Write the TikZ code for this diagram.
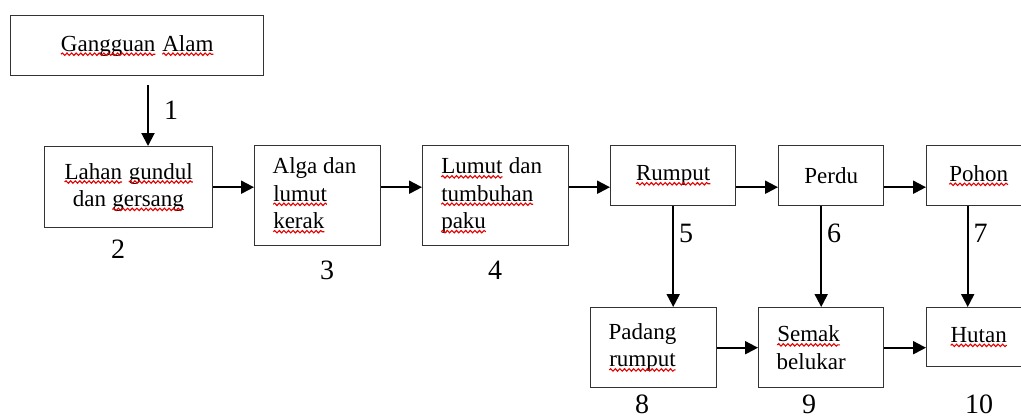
\documentclass[tikz,border=0pt]{standalone}
\usepackage{fontspec}
\setmainfont{Liberation Serif}
\usetikzlibrary{arrows.meta}
\usetikzlibrary{decorations.pathmorphing}

\tikzset{
    stage/.style={rectangle, draw=black!80, line width=0.7pt, anchor=north west, inner xsep=9pt, font=\fontsize{11.5}{13.7}\selectfont},
    number/.style={font=\fontsize{14}{16}\selectfont, inner sep=0pt},
    flow/.style={-{Triangle[length=6.5pt, width=6.5pt]}, line width=1pt},
    squiggle/.style={draw=red!90!black, line width=0.55pt, decorate, decoration={snake, amplitude=0.6pt, segment length=2.3pt}}
}

% red wavy underline of the spell checker
\newcommand{\sqw}[1]{\tikz[baseline=(sqw.base)]{\node[inner sep=0pt, outer sep=0pt, draw=none, text width={}, minimum width=0pt, minimum height=0pt, anchor=base] (sqw) {#1}; \draw[squiggle] ([yshift=-1.5pt]sqw.base west) -- ([yshift=-1.5pt]sqw.base east);}}

\begin{document}
\begin{tikzpicture}[x=0.5pt, y=-0.5pt]
    \useasboundingbox (0, 0) rectangle (1021, 419);

    \node [stage, minimum width=126.5pt, minimum height=30pt] (gangguan) at (10, 15) {\sqw{Gangguan} \sqw{Alam}};
    \node [stage, minimum width=84pt, minimum height=40.5pt, align=center] (lahan) at (44, 146) {\sqw{Lahan} \sqw{gundul}\\ dan \sqw{gersang}};
    \node [stage, text width=45pt, minimum height=50pt, align=flush left] (alga) at (254, 145) {Alga dan\\ \sqw{lumut}\\ \sqw{kerak}};
    \node [stage, text width=55pt, minimum height=50pt, align=flush left] (lumut) at (422, 145) {\sqw{Lumut} dan\\ \sqw{tumbuhan}\\ \sqw{paku}};
    \node [stage, minimum width=62.5pt, minimum height=30pt] (rumput) at (610, 145) {\sqw{Rumput}};
    \node [stage, minimum width=52.5pt, minimum height=30pt] (perdu) at (778, 145) {Perdu};
    \node [stage, minimum width=52pt, minimum height=30pt] (pohon) at (926, 145) {\sqw{Pohon}};
    \node [stage, text width=45pt, minimum height=40pt, align=flush left] (padang) at (590, 307) {Padang\\ \sqw{rumput}};
    \node [stage, text width=44.5pt, minimum height=40pt, align=flush left] (semak) at (758, 307) {\sqw{Semak}\\ belukar};
    \node [stage, minimum width=52pt, minimum height=29.5pt] (hutan) at (926, 307) {\sqw{Hutan}};

    \node [number] (n2) at (118, 249) {2};
    \node [number] (n3) at (327, 270) {3};
    \node [number] (n4) at (495, 270) {4};
    \node [number] (n8) at (642, 404) {8};
    \node [number] (n9) at (809, 404) {9};
    \node [number] (n10) at (979, 404) {10};

    \coordinate (drop) at (148, 85);
    \coordinate (fall) at ([xshift=-5.5pt]pohon.south);

    \draw [flow] (drop) -- node [number, pos=0.42, right=7.5pt] (n1) {1} (drop |- lahan.north);
    \draw [flow] (lahan.east) -- (lahan.east -| alga.west);
    \draw [flow] (alga.east |- lahan.east) -- (lumut.west |- lahan.east);
    \draw [flow] (lumut.east |- lahan.east) -- (rumput.west |- lahan.east);
    \draw [flow] (rumput.east |- lahan.east) -- (perdu.west |- lahan.east);
    \draw [flow] (perdu.east |- lahan.east) -- (pohon.west |- lahan.east);

    \draw [flow] (rumput.south) -- node [number, pos=0.265, right=2.5pt] (n5) {5} (rumput.south |- padang.north);
    \draw [flow] (semak.north |- perdu.south) -- node [number, pos=0.265, right=2.5pt] (n6) {6} (semak.north);
    \draw [flow] (fall) -- node [number, pos=0.265, right=2.5pt] (n7) {7} (fall |- hutan.north);

    \draw [flow] (padang.east) -- (semak.west);
    \draw [flow] (semak.east) -- (semak.east -| hutan.west);
\end{tikzpicture}
\end{document}
